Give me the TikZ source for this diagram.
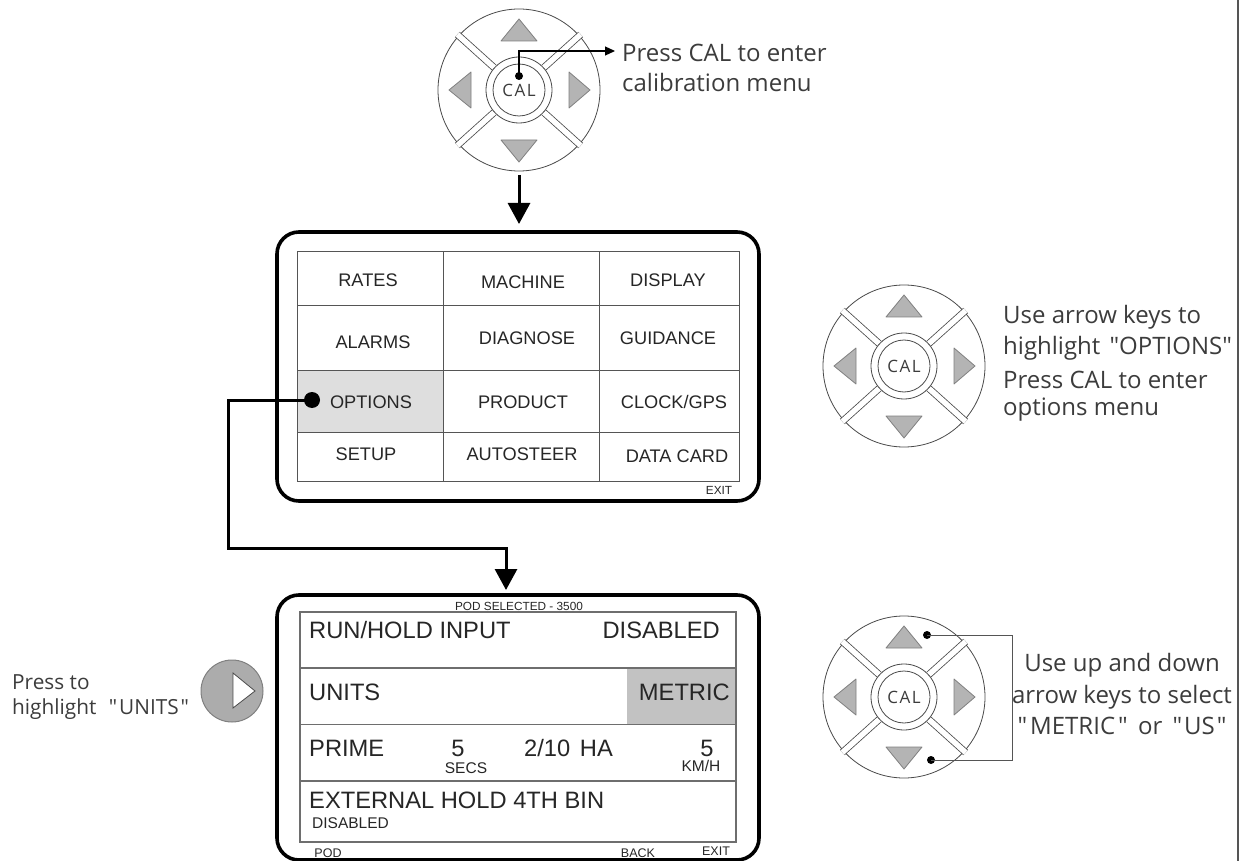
\documentclass[tikz,border=0pt]{standalone}
\usepackage{fontspec}
\setmainfont{Liberation Sans}
\newfontfamily\humanist{Open Sans}
\newfontfamily\humanistwide[LetterSpace=9]{Open Sans}
\usetikzlibrary{arrows.meta}
\definecolor{ink}{HTML}{262626}
\definecolor{softink}{HTML}{3C3C3C}
\definecolor{keyline}{HTML}{4A4A4A}
\definecolor{keyfill}{HTML}{B4B4B4}
\definecolor{cellfill}{HTML}{DEDEDE}
\definecolor{metricfill}{HTML}{C2C2C2}
\definecolor{gridline}{HTML}{555555}
\definecolor{softgrid}{HTML}{6E6E6E}
\definecolor{padfill}{HTML}{ACACAC}
\newcommand{\fs}[1]{\fontsize{#1}{#1}\selectfont}
\newcommand{\keypad}[3]{%
  \begin{scope}[shift={(#2,#3)}]
    \coordinate (#1) at (0,0);
    \draw[keywire] (0,0) circle[radius=81];
    \foreach \ang in {42,138,222,318}
      \draw[keywire,double=white,double distance=5.5,line cap=butt] (\ang:33.5) -- (\ang:83);
    \draw[keywire,fill=white] (0,0) circle[radius=33];
    \draw[keywire] (0,0) circle[radius=26];
    \draw[keytri] (0,-71) -- (18,-49) -- (-18,-49) -- cycle;
    \draw[keytri] (0,72) -- (18,50) -- (-18,50) -- cycle;
    \draw[keytri] (-70,0) -- (-48,-18) -- (-48,18) -- cycle;
    \draw[keytri] (71,0) -- (50,-18) -- (50,18) -- cycle;
    \node[caltext] (#1cal) at (0,0) {CAL};
  \end{scope}}
\tikzset{
  x=1pt,y=-1pt,
  keywire/.style={draw=keyline,line width=0.8},
  keytri/.style={draw=gray,line width=0.8,fill=keyfill,line join=round},
  caltext/.style={humantext,font=\humanistwide\fs{17}},
  humantext/.style={inner sep=0,text=softink},
  note/.style={humantext,anchor=west,font=\humanist\fs{24}},
  notemid/.style={humantext,anchor=center,font=\humanist\fs{24}},
  notesmall/.style={humantext,anchor=west,font=\humanist\fs{20.8}},
  panel/.style={draw=black,line width=3.6,rounded corners=22,fill=white,minimum width=482,inner sep=0},
  gridwire/.style={draw=gridline,line width=1},
  softwire/.style={draw=softgrid,line width=1.3},
  cell/.style={inner sep=0,text=ink,font=\fs{18.2}},
  big/.style={inner sep=0,text=ink,font=\fs{23.7}},
  bigl/.style={big,anchor=west},
  bigr/.style={big,anchor=east},
  tiny/.style={inner sep=0,text=ink,font=\fs{11.8}},
  small/.style={inner sep=0,text=ink,font=\fs{15.5}},
  dot/.style={circle,fill=black,inner sep=0,minimum size=#1},
  flow/.style={draw=black,line width=3,-{Triangle[width=22,length=21]}},
  bracket/.style={draw=gridline,line width=1}
}
\begin{document}
\begin{tikzpicture}
\useasboundingbox (0,0) rectangle (1254,861);
\fill[white] (0,0) rectangle (1254,861);

% right margin rule
\coordinate (ruleTop) at (1238,0);
\coordinate (ruleEnd) at (1238,861);
\draw[draw=gridline,line width=1.6] (ruleTop) -- (ruleEnd);

% panels
\node[panel,minimum height=269] (panelA) at (518,366.5) {};
\node[panel,minimum height=265] (panelB) at (518,727.5) {};

% panel A grid
\fill[cellfill] (297,370) rectangle (443,432);
\draw[gridwire] (297,252) rectangle (739,481);
\foreach \yy in {306,370,432} \draw[gridwire] (297,\yy) -- (739,\yy);
\foreach \xx in {443,599.5} \draw[gridwire] (\xx,252) -- (\xx,481);
\node[cell] (rates) at (368,280) {RATES};
\node[cell] (machine) at (523,282) {MACHINE};
\node[cell] (display) at (668,280) {DISPLAY};
\node[cell] (alarms) at (373,342) {ALARMS};
\node[cell] (diagnose) at (527,338) {DIAGNOSE};
\node[cell] (guidance) at (668,338) {GUIDANCE};
\node[cell] (options) at (371,402) {OPTIONS};
\node[cell] (product) at (523,402) {PRODUCT};
\node[cell] (clock) at (674,402) {CLOCK/GPS};
\node[cell] (setup) at (366,454) {SETUP};
\node[cell] (autosteer) at (522,454) {AUTOSTEER};
\node[cell] (datacard) at (677,456) {DATA CARD};
\node[tiny] (exitA) at (719,490) {EXIT};

% panel B grid
\fill[metricfill] (627,668) rectangle (736,724.5);
\draw[softwire] (300,612) rectangle (736,842);
\foreach \yy in {668,724.5,781} \draw[softwire] (300,\yy) -- (736,\yy);
\node[tiny] (podsel) at (519,606) {POD SELECTED - 3500};
\node[bigl] (runhold) at (309,630) {RUN/HOLD INPUT};
\node[bigr] (disabledA) at (720,630) {DISABLED};
\node[bigl] (units) at (309,692) {UNITS};
\node[bigr] (metric) at (730,692) {METRIC};
\node[bigl] (prime) at (309,748) {PRIME};
\node[big] (five) at (458,748) {5};
\node[small] (secs) at (466,768) {SECS};
\node[bigl] (twoten) at (524,748) {2/10\hspace{3pt} HA};
\node[big] (fiveb) at (707,748) {5};
\node[small] (kmh) at (701,766) {KM/H};
\node[bigl] (external) at (309,800) {EXTERNAL HOLD 4TH BIN};
\node[small,anchor=west] (disabledB) at (312,823) {DISABLED};
\node[tiny,font=\fs{12.5}] (pod) at (328,853) {POD};
\node[tiny,font=\fs{12.5}] (back) at (638,853) {BACK};
\node[tiny,font=\fs{12.5}] (exitB) at (716,851) {EXIT};

% keypads
\keypad{keyA}{519}{90}
\keypad{keyB}{904}{366}
\keypad{keyC}{904}{697}

% top keypad callout
\node[dot=8] (calDot) at (519,76) {};
\coordinate (calBend) at (519,51);
\coordinate (calTip) at (615,51);
\draw[draw=black,line width=1.2,-{Triangle[width=9,length=10]}] (calDot.center) -- (calBend) -- (calTip);
\node[note] (noteA1) at (622,53) {Press CAL to enter};
\node[note] (noteA2) at (622,83) {calibration menu};

% flow arrows
\coordinate (flowStart) at (519,175);
\coordinate (flowEnd) at (519,224);
\draw[flow] (flowStart) -- (flowEnd);
\node[dot=16] (optDot) at (312,400) {};
\coordinate (bendA) at (228,400);
\coordinate (bendB) at (228,548);
\coordinate (bendC) at (506,548);
\coordinate (bendD) at (506,590);
\draw[flow] (optDot.center) -- (bendA) -- (bendB) -- (bendC) -- (bendD);

% middle note
\node[note] (noteB1) at (1003,317) {Use arrow keys to};
\node[note] (noteB2) at (1003,348) {highlight\hspace{3pt} "OPTIONS"};
\node[note] (noteB3) at (1003,380) {Press CAL to enter};
\node[note] (noteB4) at (1003,410) {options menu};

% lower note with bracket
\node[dot=8] (upDot) at (927,635) {};
\node[dot=8] (downDot) at (931,760) {};
\coordinate (brA) at (1012,635);
\coordinate (brB) at (1012,760);
\draw[bracket] (upDot.center) -- (brA) -- (brB) -- (downDot.center);
\node[notemid] (noteC1) at (1122,665) {Use up and down};
\node[notemid] (noteC2) at (1122,697) {arrow keys to select};
\node[notemid] (noteC3) at (1122,726) {"\hspace{3pt}METRIC\hspace{3pt}"\hspace{4pt} or \hspace{4pt}"\hspace{2pt}US\hspace{2pt}"};

% press right key
\node[notesmall] (noteD1) at (12,682) {Press to};
\node[notesmall] (noteD2) at (12,709) {highlight\hspace{7pt} "\hspace{2pt}UNITS\hspace{2pt}"};
\node[circle,draw=gray,line width=1,fill=padfill,minimum size=62,inner sep=0] (rightKey) at (232,691) {};
\draw[draw=keyline,line width=0.8,fill=white] (233,673) -- (255,691) -- (233,708) -- cycle;
\end{tikzpicture}
\end{document}
